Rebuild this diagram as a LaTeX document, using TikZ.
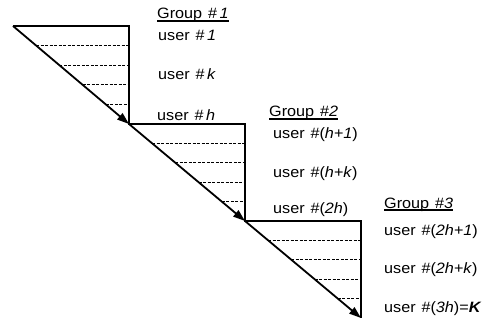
\documentclass[tikz,border=0pt]{standalone}
\usepackage{fontspec}
\setmainfont[FakeStretch=1.08,WordSpace=1.3]{Liberation Sans}
\usetikzlibrary{calc,arrows.meta}
\newcommand{\iv}[1]{\textit{#1}}
\begin{document}
\begin{tikzpicture}[x=1pt,y=-1pt,
  solidline/.style={line width=1.8pt},
  diag/.style={line width=1.8pt,-{Triangle[length=12pt,width=8pt]}},
  slot/.style={dash pattern=on 3pt off 1.5pt,line width=1.1pt},
  lbl/.style={anchor=base west,inner sep=0pt,font=\fontsize{15}{17}\selectfont},
  grp/.style={lbl}]
\useasboundingbox (0,0) rectangle (490,321);

% staircase corners
\coordinate (A0) at (13,26);
\coordinate (A1) at (129,124);
\coordinate (A2) at (245,221);
\coordinate (A3) at (361,318);

% steps: top edge and right edge of each triangle
\draw[solidline,line join=miter] (A0) -| (A1) -| (A2) -| (A3);

% dashed slots inside each triangle
\foreach \a/\b in {A0/A1,A1/A2,A2/A3}{
  \foreach \k in {1,2,3,4}{
    \coordinate (p) at ($(\a)!\k/5!(\b)$);
    \draw[slot] (p) -- (p -| \b);
  }
}

% diagonal with arrowheads at every step
\draw[diag] (A0) -- (A1);
\draw[diag] (A1) -- (A2);
\draw[diag] (A2) -- (A3);

% group 1
\node[grp] (g1) at (157,19) {Group \#\,\iv{1}};
\node[lbl] (u11) at (158,41) {user \#\,\iv{1}};
\node[lbl] (u12) at (158,79) {user \#\,\iv{k}};
\node[lbl] (u13) at (157,120) {user \#\,\iv{h}};

% group 2
\node[grp] (g2) at (269,117) {Group \#\iv{2}};
\node[lbl] (u21) at (273,138) {user \#(\iv{h+1})};
\node[lbl] (u22) at (273,177) {user \#(\iv{h+k})};
\node[lbl] (u23) at (273,213) {user \#(\iv{2h})};

% group 3
\node[grp] (g3) at (384,208) {Group \#\iv{3}};
\node[lbl] (u31) at (384,235) {user \#(\iv{2h+1})};
\node[lbl] (u32) at (384,273) {user \#(\iv{2h+k})};
\node[lbl] (u33) at (384,312) {user \#(\iv{3h})=\textbf{\iv{K}}};

% underlines of the group titles
\foreach \g in {g1,g2,g3}{
  \draw[line width=1.1pt] ([yshift=-2pt]\g.base west) -- ([yshift=-2pt]\g.base east);
}
\end{tikzpicture}
\end{document}
